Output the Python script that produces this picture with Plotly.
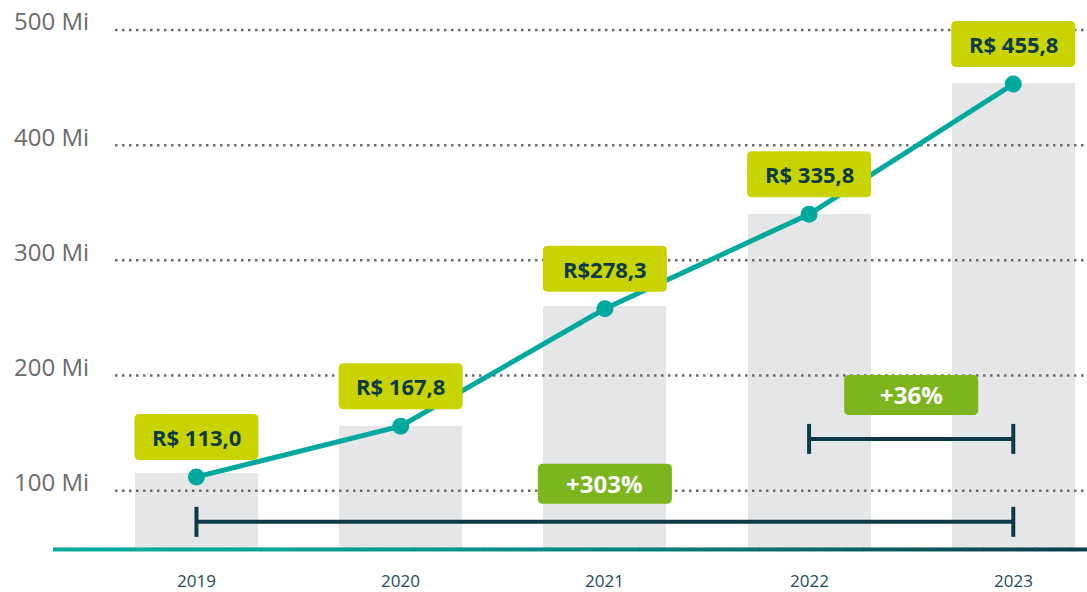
import plotly.graph_objects as go

# ---------------- data ----------------
categories = ["2019", "2020", "2021", "2022", "2023"]
bar_values = [115, 156, 260, 340, 454]
line_values = [112, 156, 258, 340, 453]
value_labels = ["R$ 113,0", "R$ 167,8", "R$278,3", "R$ 335,8", "R$ 455,8"]
tick_values = [100, 200, 300, 400, 500]
tick_labels = ["100 Mi", "200 Mi", "300 Mi", "400 Mi", "500 Mi"]
growth_labels = ["+303%", "+36%"]
growth_from = ["2019", "2022"]
growth_to = ["2023", "2023"]

# ---------------- style / layout ----------------
W, H = 1087, 592
X_RANGE = [-0.962, 4.361]
Y_RANGE = [12.07, 526.0]
BASE = 49
BRACKET_LEVELS = [73, 145]
GROWTH_BOX_OFFSETS = [38, 44]
TEAL = "#00a99d"
DARK = "#0c3b47"
LABEL_BG = "#c9d300"
GREEN = "#7cb51e"
BAR = "#e5e6e8"
FONT = "Open Sans"

xs = list(range(len(categories)))
idx = {c: i for i, c in enumerate(categories)}


def px_to_x(px):
    return X_RANGE[0] + px / W * (X_RANGE[1] - X_RANGE[0])


def rrect(x0, y0, x1, y1, r):
    return (f"M{x0+r},{y0} L{x1-r},{y0} Q{x1},{y0} {x1},{y0+r} "
            f"L{x1},{y1-r} Q{x1},{y1} {x1-r},{y1} L{x0+r},{y1} "
            f"Q{x0},{y1} {x0},{y1-r} L{x0},{y0+r} Q{x0},{y0} {x0+r},{y0} Z")


fig = go.Figure()

# bars
fig.add_trace(go.Bar(
    x=xs, y=[v - BASE for v in bar_values], base=BASE, width=0.602,
    marker=dict(color=BAR, line=dict(width=0)), hoverinfo="skip"))

# dotted gridlines (drawn over bars, under the line)
gx0 = px_to_x(115)
for t in tick_values:
    fig.add_trace(go.Scatter(
        x=[gx0, X_RANGE[1]], y=[t, t], mode="lines",
        line=dict(color="#6a6a6a", width=2.5, dash="2.5px,4.5px"),
        hoverinfo="skip"))

# main line
fig.add_trace(go.Scatter(
    x=xs, y=line_values, mode="lines+markers",
    line=dict(color=TEAL, width=5),
    marker=dict(color=TEAL, size=17), hoverinfo="skip"))

shapes = []
annotations = []

# baseline with gradient teal -> dark
def hex2rgb(h):
    h = h.lstrip("#")
    return tuple(int(h[i:i+2], 16) for i in (0, 2, 4))

c0, c1 = hex2rgb("#00ab9c"), hex2rgb("#0b3a48")
bx0, bx1 = px_to_x(53), X_RANGE[1]
N = 60
for k in range(N):
    f0 = k / N
    f1 = (k + 1) / N
    f = (f0 + f1) / 2
    fc = f ** 1.6
    col = "rgb(%d,%d,%d)" % tuple(round(c0[j] + (c1[j] - c0[j]) * fc) for j in range(3))
    shapes.append(dict(type="line", xref="x", yref="y",
                       x0=bx0 + (bx1 - bx0) * f0, x1=bx0 + (bx1 - bx0) * f1 + 0.002,
                       y0=BASE, y1=BASE, line=dict(color=col, width=4), layer="above"))

# value label boxes
for i, (v, lab) in enumerate(zip(line_values, value_labels)):
    shapes.append(dict(type="path", xref="x", yref="y", xsizemode="pixel", ysizemode="pixel",
                       xanchor=i, yanchor=v, path=rrect(-62, 17, 62, 63, 5),
                       fillcolor=LABEL_BG, line=dict(width=0), layer="above"))
    annotations.append(dict(x=i, y=v, xref="x", yref="y", yshift=40, text=lab,
                            showarrow=False, font=dict(family=FONT, size=22, color=DARK, weight="bold"),
                            xanchor="center", yanchor="middle"))

# growth brackets
for lab, a, b, lvl, off in zip(growth_labels, growth_from, growth_to, BRACKET_LEVELS, GROWTH_BOX_OFFSETS):
    i0, i1 = idx[a], idx[b]
    shapes.append(dict(type="line", xref="x", yref="y", x0=i0, x1=i1, y0=lvl, y1=lvl,
                       line=dict(color=DARK, width=4), layer="above"))
    for ii in (i0, i1):
        shapes.append(dict(type="line", xref="x", yref="y", xsizemode="scaled", ysizemode="pixel",
                           x0=ii, x1=ii, yanchor=lvl, y0=-15, y1=15,
                           line=dict(color=DARK, width=4), layer="above"))
    mid = (i0 + i1) / 2
    shapes.append(dict(type="path", xref="x", yref="y", xsizemode="pixel", ysizemode="pixel",
                       xanchor=mid, yanchor=lvl, path=rrect(-67, off - 20, 67, off + 20, 5),
                       fillcolor=GREEN, line=dict(width=0), layer="above"))
    annotations.append(dict(x=mid, y=lvl, xref="x", yref="y", yshift=off, text=lab,
                            showarrow=False, font=dict(family=FONT, size=24, color="white", weight="bold"),
                            xanchor="center", yanchor="middle"))

# y tick labels
for t, lab in zip(tick_values, tick_labels):
    annotations.append(dict(x=12 / W, y=t, xref="paper", yref="y", yshift=9, text=lab,
                            showarrow=False, font=dict(family=FONT, size=24, color="#6b6b6b"),
                            xanchor="left", yanchor="middle"))

# year labels
for i, c in enumerate(categories):
    annotations.append(dict(x=i, y=BASE, xref="x", yref="y", yshift=-31, text=c,
                            showarrow=False, font=dict(family=FONT, size=17, color="#1d4c57"),
                            xanchor="center", yanchor="middle"))

fig.update_layout(
    width=W, height=H, margin=dict(l=0, r=0, t=0, b=0),
    paper_bgcolor="white", plot_bgcolor="white", showlegend=False,
    xaxis=dict(range=X_RANGE, visible=False, fixedrange=True),
    yaxis=dict(range=Y_RANGE, visible=False, fixedrange=True),
    shapes=shapes, annotations=annotations, bargap=0,
)

fig.write_html("out.html", config={"displayModeBar": False},
               post_script="document.body.style.margin='0px';document.body.style.overflow='hidden';")
